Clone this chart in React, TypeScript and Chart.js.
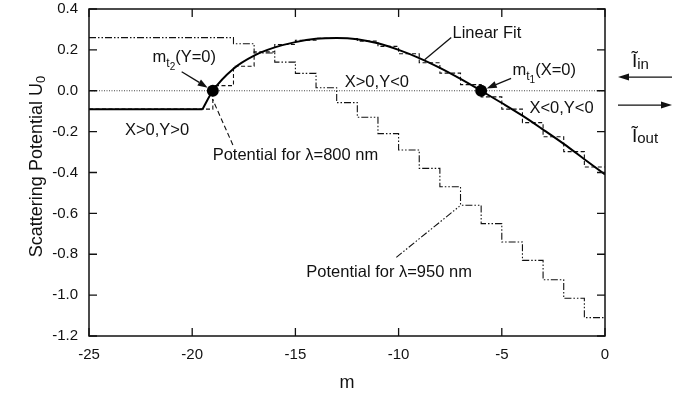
import React, { useEffect, useRef } from 'react';
import { Chart, registerables } from 'chart.js';

Chart.register(...registerables);

// ---- data ----
const xTicks = [-25, -20, -15, -10, -5, 0];
const yTicks = [0.4, 0.2, 0.0, -0.2, -0.4, -0.6, -0.8, -1.0, -1.2];

// Linear fit: flat part then curved part
const fitFlatM = [-25, -19.5];
const fitFlatU = [-0.09, -0.09];
const fitM = [-19.5, -19, -18, -17, -16, -15, -14, -13, -12, -11, -10, -9, -8, -7, -6, -5, -4, -3, -2, -1, 0];
const fitU = [-0.09, 0.0, 0.108, 0.172, 0.212, 0.238, 0.254, 0.258, 0.252, 0.232, 0.2, 0.16, 0.112, 0.058, 0.0, -0.06, -0.122, -0.19, -0.26, -0.335, -0.41];

// Potential for 800 nm (staircase, value holds from each m to the next)
const pot800M = [-25, -19, -18, -17, -16, -15, -14, -13, -12, -11, -10, -9, -8, -7, -6, -5, -4, -3, -2, -1, 0];
const pot800U = [-0.09, 0.025, 0.12, 0.19, 0.226, 0.247, 0.257, 0.256, 0.243, 0.217, 0.181, 0.137, 0.086, 0.03, -0.03, -0.09, -0.156, -0.225, -0.298, -0.373, -0.373];

// Potential for 950 nm (staircase)
const pot950M = [-25, -18, -17, -16, -15, -14, -13, -12, -11, -10, -9, -8, -7, -6, -5, -4, -3, -2, -1, 0];
const pot950U = [0.26, 0.23, 0.185, 0.14, 0.085, 0.015, -0.058, -0.13, -0.21, -0.29, -0.38, -0.47, -0.56, -0.65, -0.74, -0.83, -0.925, -1.015, -1.11, -1.11];

const zeroM = [-25, 0];
const zeroU = [0, 0];

// turning points m_t2 (Y=0) and m_t1 (X=0)
const dotM = [-19, -6];
const dotU = [0, 0];

const FONT = '"Liberation Sans", Arial, Helvetica, sans-serif';
const INK = '#111';

const pts = (xs: number[], ys: number[]) => xs.map((x, i) => ({ x, y: ys[i] }));

function drawParts(ctx: CanvasRenderingContext2D, x: number, y: number, parts: [string, number, number][]) {
  let cx = x;
  for (const [t, size, drop] of parts) {
    ctx.font = `${size}px ${FONT}`;
    ctx.fillText(t, cx, y + drop);
    cx += ctx.measureText(t).width;
  }
}

function arrow(ctx: CanvasRenderingContext2D, x1: number, y1: number, x2: number, y2: number, head = 10, half = 3.5) {
  const a = Math.atan2(y2 - y1, x2 - x1);
  const bx = x2 - Math.cos(a) * head;
  const by = y2 - Math.sin(a) * head;
  ctx.beginPath();
  ctx.moveTo(x1, y1);
  ctx.lineTo(bx, by);
  ctx.stroke();
  ctx.beginPath();
  ctx.moveTo(x2, y2);
  ctx.lineTo(bx - Math.sin(a) * half, by + Math.cos(a) * half);
  ctx.lineTo(bx + Math.sin(a) * half, by - Math.cos(a) * half);
  ctx.closePath();
  ctx.fill();
}

const decorPlugin = {
  id: 'decor',
  afterDraw(chart: any) {
    const ctx: CanvasRenderingContext2D = chart.ctx;
    const xs = chart.scales.x;
    const ys = chart.scales.y;
    const { left, right, top, bottom } = chart.chartArea;
    const X = (m: number) => xs.getPixelForValue(m);
    const Y = (u: number) => ys.getPixelForValue(u);

    ctx.save();
    ctx.strokeStyle = INK;
    ctx.fillStyle = INK;

    // frame
    ctx.lineWidth = 1.5;
    ctx.strokeRect(left, top, right - left, bottom - top);

    // inward ticks
    ctx.lineWidth = 1.3;
    const tl = 8;
    ctx.beginPath();
    for (const v of xTicks) {
      const p = X(v);
      ctx.moveTo(p, bottom); ctx.lineTo(p, bottom - tl);
      ctx.moveTo(p, top); ctx.lineTo(p, top + tl);
    }
    for (const v of yTicks) {
      const p = Y(v);
      ctx.moveTo(left, p); ctx.lineTo(left + tl, p);
      ctx.moveTo(right, p); ctx.lineTo(right - tl, p);
    }
    ctx.stroke();

    // y axis title with subscript
    ctx.save();
    ctx.textBaseline = 'alphabetic';
    ctx.textAlign = 'left';
    ctx.font = `18px ${FONT}`;
    const w1 = ctx.measureText('Scattering Potential U').width;
    ctx.font = `13px ${FONT}`;
    const w2 = ctx.measureText('0').width;
    const cy = (top + bottom) / 2 - 6;
    ctx.translate(42, cy);
    ctx.rotate(-Math.PI / 2);
    drawParts(ctx, -(w1 + w2) / 2, 0, [['Scattering Potential U', 18, 0], ['0', 13, 3]]);
    ctx.restore();

    // annotations
    ctx.textBaseline = 'alphabetic';
    ctx.textAlign = 'left';
    const F = 16.5;

    drawParts(ctx, X(-21.92), Y(0.142), [['m', F, 0], ['t', 12, 5], ['2', 10, 8], ['(Y=0)', F, 0]]);
    drawParts(ctx, X(-4.48), Y(0.077), [['m', F, 0], ['t', 12, 5], ['1', 10, 8], ['(X=0)', F, 0]]);
    drawParts(ctx, X(-7.39), Y(0.257), [['Linear Fit', F, 0]]);
    drawParts(ctx, X(-23.26), Y(-0.217), [['X>0,Y>0', F, 0]]);
    drawParts(ctx, X(-12.61), Y(0.018), [['X>0,Y<0', F, 0]]);
    drawParts(ctx, X(-3.66), Y(-0.109), [['X<0,Y<0', F, 0]]);
    drawParts(ctx, X(-19.01), Y(-0.339), [['Potential for \u03BB=800 nm', F, 0]]);
    drawParts(ctx, X(-14.47), Y(-0.911), [['Potential for \u03BB=950 nm', F, 0]]);

    // arrows to the turning points
    ctx.lineWidth = 1.3;
    {
      const sx = X(-20.51), sy = Y(0.093);
      const cx = X(dotM[0]), cyy = Y(dotU[0]);
      const a = Math.atan2(cyy - sy, cx - sx);
      arrow(ctx, sx, sy, cx - Math.cos(a) * 6, cyy - Math.sin(a) * 6);
    }
    {
      const sx = X(-4.55), sy = Y(0.061);
      const cx = X(dotM[1]), cyy = Y(dotU[1]);
      const a = Math.atan2(cyy - sy, cx - sx);
      arrow(ctx, sx, sy, cx - Math.cos(a) * 6, cyy - Math.sin(a) * 6);
    }
    // Linear fit pointer
    ctx.beginPath();
    ctx.moveTo(X(-7.45), Y(0.261));
    ctx.lineTo(X(-8.74), Y(0.152));
    ctx.stroke();
    // 800 nm pointer (dashed)
    ctx.lineWidth = 1.1;
    ctx.setLineDash([5, 3]);
    ctx.beginPath();
    ctx.moveTo(X(-18.03), Y(-0.265));
    ctx.lineTo(X(-19.02), Y(-0.04));
    ctx.stroke();
    // 950 nm pointer (dash-dot-dot)
    ctx.setLineDash([7, 2, 1.5, 2, 1.5, 2]);
    ctx.beginPath();
    ctx.moveTo(X(-10.11), Y(-0.815));
    ctx.lineTo(X(-7.05), Y(-0.565));
    ctx.stroke();
    ctx.setLineDash([]);

    // incoming / outgoing waves at the right
    ctx.lineWidth = 1.3;
    arrow(ctx, right + 67, Y(0.067), right + 13, Y(0.067), 11, 3.5);
    arrow(ctx, right + 13, Y(-0.07), right + 67, Y(-0.07), 11, 3.5);
    drawParts(ctx, right + 27, Y(0.117), [['\u0128', 19, 0], ['in', 15, 2]]);
    drawParts(ctx, right + 27, Y(-0.25), [['\u0128', 19, 0], ['out', 15, 1]]);

    ctx.restore();
  },
};

export default function App() {
  const ref = useRef<HTMLCanvasElement | null>(null);

  useEffect(() => {
    document.body.style.margin = '0';
    const canvas = ref.current;
    if (!canvas) return;
    const chart = new Chart(canvas, {
      type: 'scatter',
      data: {
        datasets: [
          {
            label: 'turning points',
            data: pts(dotM, dotU),
            showLine: false,
            pointRadius: 6,
            pointBackgroundColor: '#000',
            pointBorderColor: '#000',
            pointBorderWidth: 0,
          },
          {
            label: 'Linear Fit',
            data: pts(fitM, fitU),
            showLine: true,
            borderColor: '#000',
            borderWidth: 2,
            pointRadius: 0,
            cubicInterpolationMode: 'monotone',
          },
          {
            label: 'Linear Fit (flat)',
            data: pts(fitFlatM, fitFlatU),
            showLine: true,
            borderColor: '#000',
            borderWidth: 2,
            pointRadius: 0,
          },
          {
            label: 'Potential for λ=800 nm',
            data: pts(pot800M, pot800U),
            showLine: true,
            stepped: true,
            borderColor: INK,
            borderWidth: 1.1,
            borderDash: [4, 2.5],
            pointRadius: 0,
          },
          {
            label: 'Potential for λ=950 nm',
            data: pts(pot950M, pot950U),
            showLine: true,
            stepped: true,
            borderColor: INK,
            borderWidth: 1.1,
            borderDash: [7, 2, 1.5, 2, 1.5, 2],
            pointRadius: 0,
          },
          {
            label: 'zero',
            data: pts(zeroM, zeroU),
            showLine: true,
            borderColor: '#444',
            borderWidth: 1,
            borderDash: [1, 1.5],
            pointRadius: 0,
          },
        ],
      },
      options: {
        responsive: false,
        animation: false,
        devicePixelRatio: 1,
        layout: { padding: { top: 9, right: 81, left: 0, bottom: 0 } },
        plugins: {
          legend: { display: false },
          tooltip: { enabled: false },
          title: { display: false },
        },
        scales: {
          x: {
            type: 'linear',
            min: -25,
            max: 0,
            afterBuildTicks: (s: any) => {
              s.ticks = xTicks.map((v) => ({ value: v }));
            },
            afterFit: (s: any) => {
              s.height = 59;
              s.paddingLeft = 0;
              s.paddingRight = 0;
            },
            grid: { display: false },
            border: { display: false },
            ticks: {
              font: { family: FONT, size: 15 },
              color: INK,
              padding: 2,
              maxRotation: 0,
              autoSkip: false,
              callback: (v: any) => String(v),
            },
            title: {
              display: true,
              text: 'm',
              font: { family: FONT, size: 18 },
              color: INK,
              padding: { top: 0, bottom: 1 },
            },
          },
          y: {
            type: 'linear',
            min: -1.2,
            max: 0.4,
            afterBuildTicks: (s: any) => {
              s.ticks = yTicks.map((v) => ({ value: v }));
            },
            afterFit: (s: any) => {
              s.width = 89;
              s.paddingTop = 0;
              s.paddingBottom = 0;
            },
            grid: { display: false },
            border: { display: false },
            ticks: {
              font: { family: FONT, size: 15 },
              color: INK,
              padding: 3,
              autoSkip: false,
              callback: (v: any) => Number(v).toFixed(1),
            },
          },
        },
      },
      plugins: [decorPlugin],
    } as any);
    return () => chart.destroy();
  }, []);

  return <canvas ref={ref} width={686} height={395} style={{ display: 'block' }} />;
}
